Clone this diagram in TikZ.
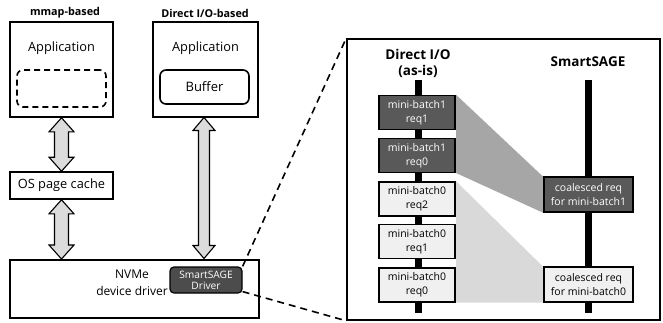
\documentclass[tikz,border=0pt]{standalone}
\usepackage{fontspec}
\setmainfont{Open Sans}
\usetikzlibrary{calc}
\definecolor{darkbox}{HTML}{595959}
\definecolor{lightbox}{HTML}{F0F0F0}
\definecolor{midgray}{HTML}{A6A6A6}
\definecolor{lightgray2}{HTML}{D9D9D9}
\definecolor{arrowfill}{HTML}{DCDCDC}
\begin{document}
\begin{tikzpicture}[x=1pt,y=-1pt,
  panel/.style={draw,line width=1.6pt,inner sep=0pt},
  title/.style={font=\bfseries\fontsize{10.8}{12}\selectfont,inner sep=0pt},
  bigtext/.style={font=\fontsize{12.8}{17}\selectfont,inner sep=0pt,align=center},
  reqdark/.style={draw,line width=1.2pt,fill=darkbox,text=white,minimum width=76pt,minimum height=34pt,inner sep=0pt,align=center,font=\fontsize{10.5}{14}\selectfont},
  reqlight/.style={reqdark,fill=lightbox,text=black},
  coaldark/.style={reqdark,minimum width=89pt,minimum height=35pt},
  coallight/.style={coaldark,fill=lightbox,text=black},
  dblarrow/.style={draw,line width=1.1pt,fill=arrowfill,line join=miter},
  zoomline/.style={line width=1.6pt,dash pattern=on 7pt off 5pt},
  timeline/.style={line width=7pt}
]
\useasboundingbox (0,0) rectangle (663,322);
\newcommand\dblarr[5]{%
  \draw[dblarrow] (#1) -- ($(#1)+(#4,#5)$) -- ($(#1)+(#3,#5)$) -- ($(#2)+(#3,-#5)$)
   -- ($(#2)+(#4,-#5)$) -- (#2) -- ($(#2)+(-#4,-#5)$) -- ($(#2)+(-#3,-#5)$)
   -- ($(#1)+(-#3,#5)$) -- ($(#1)+(-#4,#5)$) -- cycle;}

% left panel
\node[title] (t1) at (65,13) {mmap-based};
\node[title] (t2) at (205,13) {Direct I/O-based};

\node[panel,minimum width=103pt,minimum height=95pt] (app1) at (61.5,69.5) {};
\node[bigtext] (app1t) at (61.5,48) {Application};
\node[draw,line width=1.6pt,dash pattern=on 6pt off 4pt,rounded corners=6pt,minimum width=89pt,minimum height=37pt] (mm) at (61.5,88.5) {};

\node[panel,minimum width=105pt,minimum height=95pt] (app2) at (205.5,69.5) {};
\node[bigtext] (app2t) at (205.5,48) {Application};
\node[draw,line width=1.6pt,rounded corners=6pt,minimum width=89pt,minimum height=34pt,font=\fontsize{13}{14}\selectfont] (buf) at (204.5,87) {Buffer};

\node[panel,minimum width=103pt,minimum height=27pt,font=\fontsize{12.8}{16}\selectfont] (cache) at (61.5,185.5) {OS page cache};

\node[panel,minimum width=249pt,minimum height=58pt] (nvme) at (134.5,289) {};
\node[bigtext,font=\fontsize{12}{17}\selectfont] (nvmet) at (132,283) {NVMe\\device driver};
\node[draw,line width=1.2pt,fill=darkbox!85!black,text=white,rounded corners=4pt,minimum width=72pt,minimum height=26pt,inner sep=0pt,align=center,font=\fontsize{10.2}{11}\selectfont] (drv) at (206,280) {SmartSAGE\\Driver};

\coordinate (a2bot) at (61.5,259);
\coordinate (a3top) at (204,117.5);
\coordinate (a3bot) at (204,258.5);
\dblarr{app1.south}{cache.north}{7}{12.5}{14}
\dblarr{cache.south}{a2bot}{7}{12.5}{14}
\dblarr{a3top}{a3bot}{5.5}{11}{13}

% zoom panel
\node[panel,minimum width=313pt,minimum height=281pt] (zoom) at (503.5,179.5) {};
\draw[zoomline] (drv.north east) -- (zoom.north west);
\draw[zoomline] ($(drv.south east)+(0,-2)$) -- (zoom.south west);

\node[title,font=\bfseries\fontsize{13.5}{16}\selectfont,align=center] (c1) at (418,63) {Direct I/O\\(as-is)};
\node[title,font=\bfseries\fontsize{13.5}{16}\selectfont] (c2) at (588,62) {SmartSAGE};

\coordinate (l1top) at (418.5,80);
\coordinate (l1bot) at (418.5,313);
\coordinate (l2top) at (588.5,80);
\coordinate (l2bot) at (588.5,313);
\draw[timeline] (l1top) -- (l1bot);
\draw[timeline] (l2top) -- (l2bot);

\node[reqdark] (b1) at (417,112.5) {mini-batch1\\req1};
\node[reqdark] (b2) at (417,155.5) {mini-batch1\\req0};
\node[reqlight] (b3) at (417,199) {mini-batch0\\req2};
\node[reqlight] (b4) at (417,241.5) {mini-batch0\\req1};
\node[reqlight] (b5) at (417,285) {mini-batch0\\req0};

\node[coaldark] (k1) at (588.5,194.5) {coalesced req\\for mini-batch1};
\node[coallight] (k0) at (588.5,284.5) {coalesced req\\for mini-batch0};

\fill[midgray] ($(b1.north east)+(0.6,0)$) -- ($(k1.north west)+(-0.6,0)$) -- ($(k1.south west)+(-0.6,0)$) -- ($(b2.south east)+(0.6,0)$) -- cycle;
\fill[lightgray2] ($(b3.north east)+(0.6,0)$) -- ($(k0.north west)+(-0.6,0)$) -- ($(k0.south west)+(-0.6,0)$) -- ($(b5.south east)+(0.6,0)$) -- cycle;
\end{tikzpicture}
\end{document}
